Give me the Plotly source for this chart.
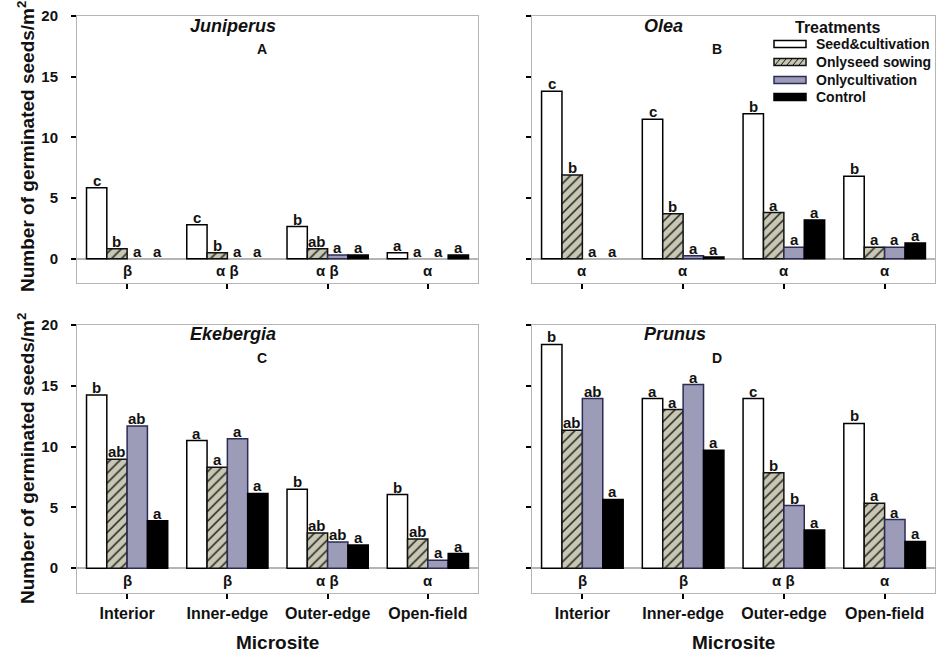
import plotly.graph_objects as go

W, H = 937, 653

microsites = ["Interior", "Inner-edge", "Outer-edge", "Open-field"]
treatments = ["Seed&cultivation", "Onlyseed sowing", "Onlycultivation", "Control"]

# Mean germinated seeds per m2, one list per treatment (order of `treatments`),
# each list ordered by microsite (order of `microsites`).
juniperus_values = [
    [5.85, 2.8, 2.65, 0.5],
    [0.82, 0.5, 0.82, 0.0],
    [0.0, 0.0, 0.3, 0.0],
    [0.0, 0.0, 0.3, 0.3],
]
olea_values = [
    [13.8, 11.5, 11.95, 6.8],
    [6.9, 3.7, 3.8, 0.95],
    [0.0, 0.25, 0.95, 0.95],
    [0.0, 0.15, 3.2, 1.3],
]
ekebergia_values = [
    [14.25, 10.5, 6.5, 6.05],
    [8.95, 8.3, 2.9, 2.4],
    [11.7, 10.65, 2.15, 0.65],
    [3.9, 6.15, 1.9, 1.2],
]
prunus_values = [
    [18.4, 13.95, 13.95, 11.9],
    [11.35, 13.05, 7.85, 5.35],
    [13.95, 15.1, 5.15, 4.0],
    [5.65, 9.7, 3.15, 2.2],
]

# Significance letters (same layout as the values)
juniperus_letters = [["c", "c", "b", "a"], ["b", "b", "ab", "a"], ["a", "a", "a", "a"], ["a", "a", "a", "a"]]
olea_letters = [["c", "c", "b", "b"], ["b", "b", "a", "a"], ["a", "a", "a", "a"], ["a", "a", "a", "a"]]
ekebergia_letters = [["b", "a", "b", "b"], ["ab", "a", "ab", "ab"], ["ab", "a", "ab", "a"], ["a", "a", "a", "a"]]
prunus_letters = [["b", "a", "c", "b"], ["ab", "a", "b", "a"], ["ab", "a", "b", "a"], ["a", "a", "a", "a"]]

# Microsite comparison labels under each group
juniperus_greek = ["β", "α β", "α β", "α"]
olea_greek = ["α", "α", "α", "α"]
ekebergia_greek = ["β", "β", "α β", "α"]
prunus_greek = ["β", "β", "α β", "α"]

species = ["Juniperus", "Olea", "Ekebergia", "Prunus"]
panel_tags = ["A", "B", "C", "D"]

y_ticks = [0, 5, 10, 15, 20]

FONT = "Liberation Sans, Arial"

# Bar styles per treatment
styles = [
    dict(color="#ffffff", line="#000000", pattern=None),
    dict(color="#c7c7b3", line="#111111", pattern=dict(shape="/", bgcolor="#c7c7b3", fgcolor="#141414",
                                                     size=7, solidity=0.2, fillmode="replace")),
    dict(color="#9c9cb8", line="#2b2b55", pattern=None),
    dict(color="#000000", line="#000000", pattern=None),
]

BARGAP = 0.19
BAR_W = (1 - BARGAP) / 4

# Panel placement in pixels: (left, right, top, bottom)
px_boxes = [
    (77, 478, 16, 283),
    (532, 935, 16, 283),
    (77, 478, 325, 592.5),
    (532, 935, 325, 592.5),
]

fig = go.Figure()

all_values = [juniperus_values, olea_values, ekebergia_values, prunus_values]
all_letters = [juniperus_letters, olea_letters, ekebergia_letters, prunus_letters]
all_greek = [juniperus_greek, olea_greek, ekebergia_greek, prunus_greek]

xpos = list(range(len(microsites)))
annotations = []

for p, (vals, lets, greek) in enumerate(zip(all_values, all_letters, all_greek)):
    ax = "" if p == 0 else str(p + 1)
    for k, tname in enumerate(treatments):
        st = styles[k]
        marker = dict(
            color=st["color"],
            line=dict(color=st["line"], width=[0 if v == 0 else 1.5 for v in vals[k]]),
        )
        if st["pattern"] is not None:
            marker["pattern"] = st["pattern"]
        fig.add_trace(go.Bar(
            x=xpos, y=vals[k], name=tname, marker=marker,
            xaxis="x" + ax, yaxis="y" + ax, showlegend=False,
            offsetgroup=str(k),
        ))
        for i, v in enumerate(vals[k]):
            annotations.append(dict(
                x=i + (k - 1.5) * BAR_W, y=v, xref="x" + ax, yref="y" + ax,
                text="<b>%s</b>" % lets[k][i], showarrow=False,
                yanchor="bottom", xanchor="center", yshift=-3,
                font=dict(family=FONT, size=15, color="#111111"),
            ))
    for i, g in enumerate(greek):
        annotations.append(dict(
            x=i, y=-1.0, xref="x" + ax, yref="y" + ax, text="<b>%s</b>" % g,
            showarrow=False, yanchor="middle", xanchor="center",
            font=dict(family=FONT, size=15, color="#111111"),
        ))

    left, right, top, bottom = px_boxes[p]
    axis_common = dict(
        showline=True, mirror=True, linecolor="#b5b5b5", linewidth=1,
        ticks="outside", tickcolor="#000000", tickwidth=2, ticklen=5,
        showgrid=False, automargin=False,
    )
    fig.update_layout(**{
        "xaxis" + ax: dict(
            domain=[left / W, right / W], anchor="y" + ax,
            range=[-0.5, 3.5], tickvals=xpos, ticktext=microsites,
            showticklabels=(p >= 2), zeroline=False,
            tickfont=dict(family=FONT, size=16, color="#111111", weight="bold"),
            ticklabelstandoff=1,
            **axis_common,
        ),
        "yaxis" + ax: dict(
            domain=[1 - bottom / H, 1 - top / H], anchor="x" + ax,
            range=[-2, 20], tickvals=y_ticks,
            showticklabels=(p % 2 == 0),
            zeroline=True, zerolinecolor="#b5b5b5", zerolinewidth=1.5,
            tickfont=dict(family=FONT, size=15, color="#111111", weight="bold"),
            ticklabelstandoff=10,
            **axis_common,
        ),
    })

    # Species name and panel tag
    cx = {0: 233, 1: 663, 2: 233, 3: 675}[p]
    ty = top + 10 if p < 2 else top + 9
    annotations.append(dict(
        x=cx / W, y=1 - ty / H, xref="paper", yref="paper",
        text="<b><i>%s</i></b>" % species[p], showarrow=False,
        xanchor="center", yanchor="middle",
        font=dict(family=FONT, size=18, color="#111111"),
    ))
    tag_x = 262 if p % 2 == 0 else 717
    annotations.append(dict(
        x=tag_x / W, y=1 - (top + 33) / H, xref="paper", yref="paper",
        text="<b>%s</b>" % panel_tags[p], showarrow=False,
        xanchor="center", yanchor="middle",
        font=dict(family=FONT, size=14, color="#111111"),
    ))

# Shared y-axis titles for each row
for cy in (147, 459):
    annotations.append(dict(
        x=26 / W, y=1 - cy / H, xref="paper", yref="paper",
        text="<b>Number of germinated seeds/m<sup>2</sup></b>", showarrow=False,
        textangle=-90, xanchor="center", yanchor="middle",
        font=dict(family=FONT, size=19, color="#111111"),
    ))

# x-axis titles for the bottom row
for cx in (277, 733):
    annotations.append(dict(
        x=cx / W, y=1 - 642 / H, xref="paper", yref="paper",
        text="<b>Microsite</b>", showarrow=False,
        xanchor="center", yanchor="middle",
        font=dict(family=FONT, size=19, color="#111111"),
    ))

# Treatment key drawn inside panel B
shapes = []
key_title_y = 28
key_rows = [44, 62, 80, 97]
kx0, kx1, kh = 774, 806, 7
annotations.append(dict(
    x=837 / W, y=1 - key_title_y / H, xref="paper", yref="paper",
    text="<b>Treatments</b>", showarrow=False, xanchor="center", yanchor="middle",
    font=dict(family=FONT, size=16, color="#111111"),
))
for k, (tname, ry) in enumerate(zip(treatments, key_rows)):
    st = styles[k]
    shapes.append(dict(
        type="rect", xref="paper", yref="paper",
        x0=kx0 / W, x1=kx1 / W, y0=1 - (ry + kh / 2) / H, y1=1 - (ry - kh / 2) / H,
        fillcolor=st["color"], line=dict(color=st["line"], width=1.5),
    ))
    if st["pattern"] is not None:
        for sx in range(kx0 + 1, kx1 - 4, 6):
            shapes.append(dict(
                type="line", xref="paper", yref="paper",
                x0=sx / W, y0=1 - (ry + kh / 2 - 0.5) / H,
                x1=(sx + 5) / W, y1=1 - (ry - kh / 2 + 0.5) / H,
                line=dict(color="#141414", width=1),
            ))
    annotations.append(dict(
        x=814 / W, y=1 - ry / H, xref="paper", yref="paper",
        text="<b>%s</b>" % tname, showarrow=False, xanchor="left", yanchor="middle",
        font=dict(family=FONT, size=14, color="#111111"),
    ))

fig.update_layout(
    width=W, height=H,
    margin=dict(l=0, r=0, t=0, b=0, pad=0, autoexpand=False),
    paper_bgcolor="#ffffff", plot_bgcolor="#ffffff",
    barmode="group", bargap=BARGAP, bargroupgap=0,
    annotations=annotations, shapes=shapes,
    font=dict(family=FONT, color="#111111"),
)

# Remove the default page margin so the figure sits flush in the window
fig.write_html("out.html", post_script="document.body.style.margin='0';")
